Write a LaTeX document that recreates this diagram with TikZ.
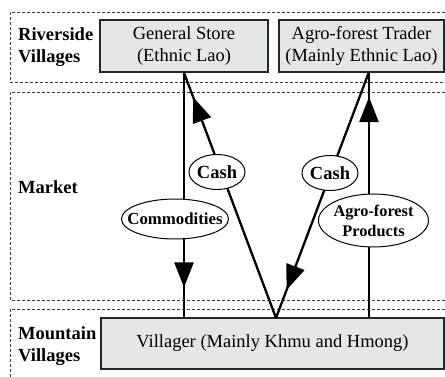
\documentclass[tikz,border=0pt]{standalone}
\usepackage{fontspec}
\setmainfont{Liberation Serif}
\usetikzlibrary{arrows.meta,decorations.markings,shapes.geometric,calc}
\definecolor{boxfill}{RGB}{229,230,230}
\definecolor{bandline}{RGB}{60,60,60}
\begin{document}
\begin{tikzpicture}[x=1pt,y=-1pt,
  band/.style={draw=bandline,line width=0.9pt,dash pattern=on 3pt off 2pt},
  actor/.style={draw=black!85,line width=1.3pt,fill=boxfill,inner sep=0pt,align=center,font=\fontsize{18.5}{22}\selectfont},
  zone/.style={font=\bfseries\fontsize{18.5}{22}\selectfont,align=left,anchor=west,inner sep=0pt},
  flowlab/.style={ellipse,draw=black,line width=1pt,fill=white,inner sep=0pt},
  flowtext/.style={inner sep=0pt,align=center,font=\bfseries\fontsize{#1}{20}\selectfont},
  flow/.style={line width=2.3pt},
  midarrow/.style={postaction={decorate},decoration={markings,mark=at position #1 with {\arrow{Triangle[length=25pt,width=19pt]}}}}
]
\clip (0,0) rectangle (445,377);
% bands
\draw[band] (460,12) -- (10,12) -- (10,82) -- (460,82);
\draw[band] (460,92) -- (10,92) -- (10,300) -- (460,300);
\draw[band] (460,309) -- (10,309) -- (10,390);
% zone labels
\node[zone] (zr) at (18,47) {Riverside\\Villages};
\node[zone] (zm) at (18,187) {Market};
\node[zone] (zv) at (18,346) {Mountain\\Villages};
% actors
\node[actor,minimum width=168pt,minimum height=52pt] (store) at (184,46) {General Store\\(Ethnic Lao)};
\node[actor,minimum width=165pt,minimum height=52pt] (trader) at (361.5,46) {Agro-forest Trader\\(Mainly Ethnic Lao)};
\node[actor,minimum width=343pt,minimum height=51pt] (villager) at (272.5,343.5) {Villager (Mainly Khmu and Hmong)};
\coordinate (apex) at (276,318);
\coordinate (tr) at (369,72);
% flows
\draw[flow,midarrow=0.878] (store.south) -- (store.south |- villager.north);
\draw[flow,midarrow=0.9] (apex) -- (store.south);
\draw[flow,midarrow=0.886] (tr) -- (apex);
\draw[flow,midarrow=0.898] (tr |- villager.north) -- (tr);
% flow labels
\node[flowlab,minimum width=56pt,minimum height=35pt,label={[flowtext=18.5]center:Cash}] (cashL) at (217,172) {};
\node[flowlab,minimum width=56pt,minimum height=35pt,label={[flowtext=18.5]center:Cash}] (cashR) at (330,173) {};
\node[flowlab,minimum width=107pt,minimum height=40pt,label={[flowtext=16.8]center:Commodities}] (comm) at (175,219) {};
\node[flowlab,minimum width=110pt,minimum height=53pt,label={[flowtext=16.3]center:{Agro-forest\\Products}}] (agro) at (373.5,220.5) {};
\end{tikzpicture}
\end{document}
